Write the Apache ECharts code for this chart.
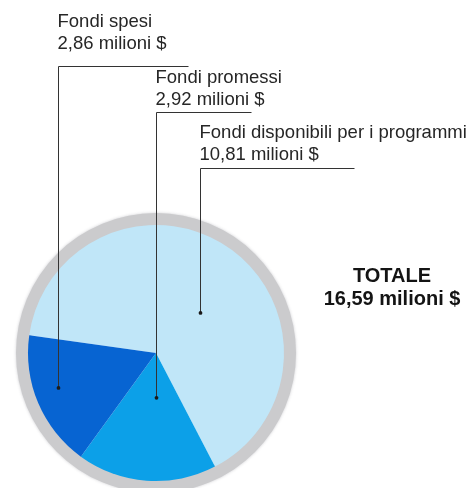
<!DOCTYPE html>
<html>
<head>
<meta charset="utf-8">
<script src="https://cdn.jsdelivr.net/npm/echarts@6/dist/echarts.min.js"></script>
<style>
  html, body { margin: 0; padding: 0; background: #ffffff; }
  #chart { width: 474px; height: 488px; }
</style>
</head>
<body>
<div id="chart"></div>
<script>
// Fund breakdown, millions of dollars
const sliceNames = ['Fondi disponibili per i programmi', 'Fondi promessi', 'Fondi spesi'];
const sliceValues = [10.81, 2.92, 2.86];
const sliceColors = ['#c0e6f8', '#0ca0e8', '#0764d2'];
const totalLabel = 'TOTALE';
const unitLabel = 'milioni $';

// Pie geometry (pixels / degrees)
const CX = 156, CY = 353, R = 128, RING = 140, START = 172;

// Leader placement for each slice: t = position along the slice, rf = fraction of radius,
// lineY = height of the horizontal rule, lineLen = its length, gap = space between text and rule
const leaders = [
  { t: 0.553, rf: 0.465, lineY: 168, lineLen: 154, gap: 2 },
  { t: 0.433, rf: 0.35,  lineY: 112, lineLen: 95,  gap: 1 },
  { t: 0.554, rf: 0.81,  lineY: 66,  lineLen: 130, gap: 11 }
];

const total = sliceValues.reduce((a, b) => a + b, 0);
const fmt = v => v.toFixed(2).replace('.', ',');

// Point inside slice i, following the same angles the pie uses (clockwise from START)
function anchorPoint(i) {
  let before = 0;
  for (let k = 0; k < i; k++) before += sliceValues[k];
  const a0 = START - before / total * 360;
  const span = sliceValues[i] / total * 360;
  const ang = (a0 - leaders[i].t * span) * Math.PI / 180;
  const r = leaders[i].rf * R;
  return [CX + r * Math.cos(ang), CY - r * Math.sin(ang)];
}

const chart = echarts.init(document.getElementById('chart'), null, { renderer: 'canvas' });

// Leader rules and end dots, drawn above the slices
const leaderGraphics = [];
sliceValues.forEach((v, i) => {
  const p = anchorPoint(i);
  const L = leaders[i];
  const x = Math.round(p[0]) + 0.5;
  const y = L.lineY + 0.5;
  leaderGraphics.push({
    type: 'polyline', z: 100, silent: true,
    shape: { points: [[x, p[1]], [x, y], [x + L.lineLen, y]] },
    style: { stroke: '#333333', lineWidth: 1, fill: null }
  });
  leaderGraphics.push({
    type: 'circle', z: 101, silent: true,
    shape: { cx: x, cy: p[1], r: 1.9 }, style: { fill: '#1a1a1a' }
  });
});

chart.setOption({
  animation: false,
  backgroundColor: '#ffffff',
  graphic: [
    ...leaderGraphics,
    {
      type: 'text', x: 392, y: 265, z: 100,
      style: {
        text: totalLabel + '\n' + fmt(total) + ' ' + unitLabel,
        align: 'center', verticalAlign: 'top',
        fontFamily: 'Liberation Sans, Arial, sans-serif',
        fontSize: 20, fontWeight: 'bold', lineHeight: 23, fill: '#141414'
      }
    }
  ],
  series: [
    {
      type: 'pie', silent: true, center: [CX, CY], radius: [R - 2, RING],
      startAngle: 90, label: { show: false }, labelLine: { show: false },
      itemStyle: { color: '#cbcbcd', shadowBlur: 3, shadowColor: 'rgba(200,200,204,0.9)' },
      data: [{ value: 1 }], z: 1
    },
    {
      type: 'pie', silent: true, center: [CX, CY], radius: [0, R],
      startAngle: START, clockwise: true, avoidLabelOverlap: false, z: 2,
      itemStyle: { borderWidth: 0 },
      data: sliceNames.map((n, i) => ({ name: n, value: sliceValues[i], itemStyle: { color: sliceColors[i] } })),
      label: {
        show: true, position: 'outside',
        formatter: p => p.name + '\n' + fmt(p.value) + ' ' + unitLabel,
        fontFamily: 'Liberation Sans, Arial, sans-serif',
        fontSize: 18.5, lineHeight: 22, color: '#262626', align: 'left'
      },
      labelLine: { show: false },
      labelLayout: params => {
        const i = params.dataIndex;
        const p = anchorPoint(i);
        const L = leaders[i];
        return {
          x: Math.round(p[0]) - 0.5, y: L.lineY - L.gap,
          align: 'left', verticalAlign: 'bottom'
        };
      }
    }
  ]
});
</script>
</body>
</html>
